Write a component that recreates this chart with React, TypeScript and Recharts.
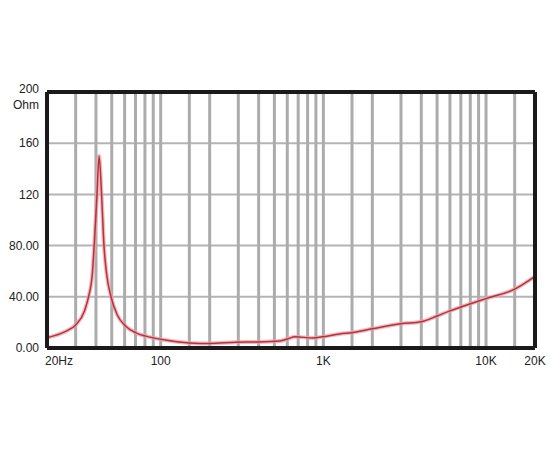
import { Line, LineChart, ReferenceLine, XAxis, YAxis } from "recharts";

// impedance curve
const freqs = [20, 24, 27, 30, 34, 36, 38, 39, 40.6, 41.8, 43.3, 44.8, 46.5, 49.5, 54, 61, 70, 86, 109, 150, 200, 290, 390, 540, 600, 670, 860, 980, 1260, 1500, 2000, 3000, 4000, 5000, 6000, 7000, 8200, 10000, 15000, 20000];
const ohms = [8, 11, 14, 18, 29, 40, 58, 80, 120, 150, 120, 80, 58, 40, 26, 17, 12, 8.5, 6, 4, 3.6, 4.5, 4.7, 5.5, 7, 8.7, 7.9, 8.7, 11, 12, 15, 19, 20.5, 25, 29, 32, 35, 38.6, 46, 56];

const xTicks = [20, 100, 1000, 10000, 20000];
const xTickLabels = ["20Hz", "100", "1K", "10K", "20K"];
const yTicks = [0, 40, 80, 120, 160, 200];
const yTickLabels = ["0.00", "40.00", "80.00", "120", "160", "200"];
const gridFreqs = [30, 40, 50, 60, 70, 80, 90, 100, 150, 200, 300, 400, 500, 600, 700, 800, 900, 1000, 1500, 2000, 3000, 4000, 5000, 6000, 7000, 8000, 9000, 10000, 15000];
const gridOhms = [40, 80, 120, 160];

const data = freqs.map((f, i) => ({ f, z: ohms[i] }));

const font = "'Liberation Sans', Arial, sans-serif";

function XTick({ x, y, payload, index }: any) {
  const first = index === 0;
  return (
    <text x={first ? x - 2 : x} y={y} dy="0.71em" textAnchor={first ? "start" : "middle"} fill="#222" fontSize={12} fontFamily={font}>
      {xTickLabels[xTicks.indexOf(payload.value)]}
    </text>
  );
}

function YTick({ x, y, payload }: any) {
  const label = yTickLabels[yTicks.indexOf(payload.value)];
  if (payload.value === 200) {
    return (
      <g>
        <text x={x} y={y - 3} dy="0.35em" textAnchor="end" fill="#222" fontSize={12} fontFamily={font}>{label}</text>
        <text x={x} y={y + 13} dy="0.35em" textAnchor="end" fill="#222" fontSize={12} fontFamily={font}>Ohm</text>
      </g>
    );
  }
  return (
    <text x={x} y={y} dy="0.35em" textAnchor="end" fill="#222" fontSize={12} fontFamily={font}>{label}</text>
  );
}

export default function App() {
  return (
    <div style={{ position: "absolute", left: 0, top: 0, width: 550, height: 450, background: "#fff" }}>
      <LineChart width={550} height={450} data={data} margin={{ top: 92, right: 15, bottom: 72, left: 0 }}>
        <XAxis dataKey="f" type="number" scale="log" domain={[20, 20000]} ticks={xTicks} interval={0} tick={<XTick />} tickLine={false} axisLine={false} height={30} allowDataOverflow />
        <YAxis type="number" domain={[0, 200]} ticks={yTicks} interval={0} tick={<YTick />} tickLine={false} axisLine={false} width={47} />
        {gridOhms.map((v) => (
          <ReferenceLine key={"h" + v} y={v} stroke="#b4b4b4" strokeWidth={2} />
        ))}
        {gridFreqs.map((v) => (
          <ReferenceLine key={"v" + v} x={v} stroke="#acacac" strokeWidth={3} />
        ))}
        <Line dataKey="z" type="monotone" stroke="#eaa3ab" strokeWidth={4} strokeOpacity={0.75} dot={false} isAnimationActive={false} />
        <Line dataKey="z" type="monotone" stroke="#b8303c" strokeWidth={1.5} dot={false} isAnimationActive={false} />
        <ReferenceLine x={20} stroke="#1a1a1a" strokeWidth={4} />
        <ReferenceLine x={20000} stroke="#1a1a1a" strokeWidth={4} />
        <ReferenceLine y={0} stroke="#1a1a1a" strokeWidth={4} />
        <ReferenceLine y={200} stroke="#1a1a1a" strokeWidth={4} />
      </LineChart>
    </div>
  );
}
